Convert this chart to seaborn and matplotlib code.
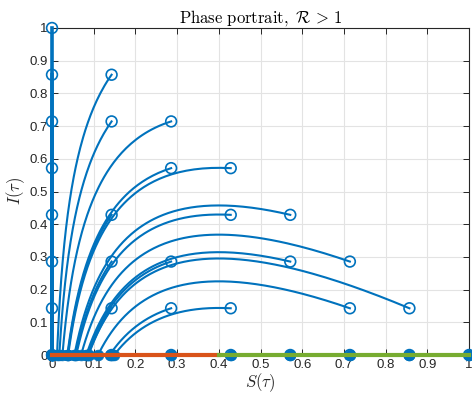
import numpy as np
import pandas as pd
import matplotlib
matplotlib.use("Agg")
import matplotlib.pyplot as plt
import seaborn as sns

# ---- data ----
R0 = 2.5                     # threshold 1/R0 = 0.4 (orange/green boundary)
S_start = [0, 0, 0, 0, 0, 0, 0, 0,
           0.1429, 0.1429, 0.1429, 0.1429, 0.1429, 0.1429,
           0.2857, 0.2857, 0.2857, 0.2857, 0.2857,
           0.4286, 0.4286, 0.4286, 0.4286,
           0.5714, 0.5714, 0.5714,
           0.7143, 0.7143, 0.7143,
           0.8571, 0.8571,
           1.0]
I_start = [0, 0.1429, 0.2857, 0.4286, 0.5714, 0.7143, 0.8571, 1.0,
           0, 0.1429, 0.2857, 0.4286, 0.7143, 0.8571,
           0, 0.1429, 0.2857, 0.5714, 0.7143,
           0, 0.1429, 0.4286, 0.5714,
           0, 0.2857, 0.4286,
           0, 0.1429, 0.2857,
           0, 0.1429,
           0]
stable_S = [0, 1 / R0]
unstable_S = [1 / R0, 1]
x_ticks = [0, 0.1, 0.2, 0.3, 0.4, 0.5, 0.6, 0.7, 0.8, 0.9, 1]
tick_labels = ["0", "0.1", "0.2", "0.3", "0.4", "0.5", "0.6", "0.7", "0.8", "0.9", "1"]

# ---- SIR trajectories (model: S' = -R0 S I, I' = R0 S I - I) ----
S = np.array(S_start, float)
I = np.array(I_start, float)
dt, nsteps = 0.02, 3000
def f(s, i):
    return -R0 * s * i, R0 * s * i - i
Ss, Is = [S.copy()], [I.copy()]
for _ in range(nsteps):
    k1 = f(S, I)
    k2 = f(S + dt / 2 * k1[0], I + dt / 2 * k1[1])
    k3 = f(S + dt / 2 * k2[0], I + dt / 2 * k2[1])
    k4 = f(S + dt * k3[0], I + dt * k3[1])
    S = S + dt / 6 * (k1[0] + 2 * k2[0] + 2 * k3[0] + k4[0])
    I = I + dt / 6 * (k1[1] + 2 * k2[1] + 2 * k3[1] + k4[1])
    Ss.append(S.copy()); Is.append(I.copy())
Ss = np.array(Ss); Is = np.array(Is)
frames = []
for k in range(len(S_start)):
    frames.append(pd.DataFrame({"S": Ss[:, k], "I": Is[:, k], "traj": k}))
traj = pd.concat(frames, ignore_index=True)
starts = pd.DataFrame({"S": S_start, "I": I_start})
ends = pd.DataFrame({"S": Ss[-1], "I": Is[-1]})
eq_stable = pd.DataFrame({"S": stable_S, "I": [0, 0]})
eq_unstable = pd.DataFrame({"S": unstable_S, "I": [0, 0]})

# ---- styling ----
plt.rcParams["font.family"] = ["Liberation Sans", "DejaVu Sans"]
plt.rcParams["mathtext.fontset"] = "cm"
blue, orange, green = "#0072BD", "#D95319", "#77AC30"
dark = "#262626"

fig = plt.figure(figsize=(4.72, 3.97), dpi=100)
ax = fig.add_axes([52 / 472, 1 - 355 / 397, 417 / 472, 327 / 397])

sns.lineplot(data=traj, x="S", y="I", units="traj", estimator=None, sort=False,
             color=blue, lw=1.5, ax=ax, zorder=3)
# overlapping trajectories on S = 0 look heavier in the reference
for ln in ax.lines:
    xd = np.asarray(ln.get_xdata(), float)
    if xd.size and np.all(xd == 0):
        ln.set_linewidth(2.6)
sns.scatterplot(data=starts, x="S", y="I", marker="o", s=60, facecolor="none",
                edgecolor=blue, linewidth=1.2, ax=ax, zorder=4, clip_on=False)
sns.scatterplot(data=ends, x="S", y="I", marker="o", s=60, color=blue,
                edgecolor=blue, linewidth=0.5, ax=ax, zorder=5, clip_on=False)
sns.lineplot(data=eq_stable, x="S", y="I", color=orange, lw=3, ax=ax, zorder=6)
sns.lineplot(data=eq_unstable, x="S", y="I", color=green, lw=3, ax=ax, zorder=6)
for ln in ax.lines:
    ln.set_clip_on(False)

ax.set_xlim(0, 1)
ax.set_ylim(0, 1)
ax.set_xticks(x_ticks)
ax.set_xticklabels(tick_labels)
ax.set_yticks(x_ticks)
ax.set_yticklabels(tick_labels)
ax.grid(True, color="#e3e3e3", lw=0.8, zorder=0)
ax.set_axisbelow(True)
ax.tick_params(direction="in", length=4, width=0.7, colors=dark, labelsize=9.5,
               top=True, right=True, pad=3)
for sp in ax.spines.values():
    sp.set_color(dark)
    sp.set_linewidth(0.8)
ax.set_title(r"$\mathrm{Phase\ portrait,}\ \mathcal{R}\,>\,1$", fontsize=12,
             color="black", pad=4)
ax.set_xlabel(r"$S(\tau)$", fontsize=12, color=dark, labelpad=0)
ax.set_ylabel(r"$I(\tau)$", fontsize=12, color=dark, labelpad=2)

fig.savefig("out.png", dpi=100)
